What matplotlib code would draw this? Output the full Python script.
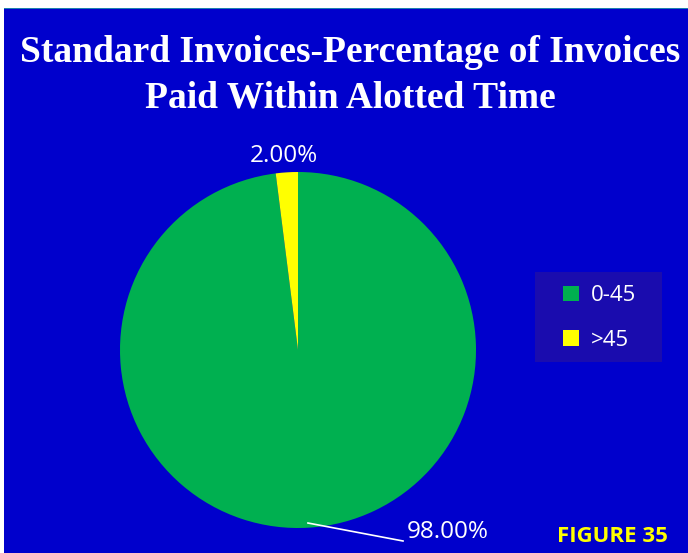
import matplotlib.pyplot as plt
from matplotlib.patches import Rectangle
import numpy as np

categories = ['0-45', '>45']
values = [98.0, 2.0]
labels = ['98.00%', '2.00%']
colors = ['#00B050', '#FFFF00']

W, H = 688, 553
fig = plt.figure(figsize=(W / 100, H / 100), dpi=100, facecolor='white')

def px_rect(x0, y0, x1, y1, color):
    # rectangle given in pixel coords from the top-left corner
    fig.patches.append(Rectangle((x0 / W, 1 - y1 / H), (x1 - x0) / W, (y1 - y0) / H,
                                 transform=fig.transFigure, facecolor=color,
                                 edgecolor='none', zorder=-5))

# blue chart area
px_rect(4, 9, W, H, '#0000CC')
px_rect(4, 7.5, W, 9, '#1F7FB0')
# legend box
px_rect(535, 272, 662, 362, '#1A0CAE')

fig.text(350 / W, 1 - 62 / H, 'Standard Invoices-Percentage of Invoices',
         ha='center', va='baseline', color='white', fontsize=27, fontweight='bold',
         family='Liberation Serif')
fig.text(350 / W, 1 - 108 / H, 'Paid Within Alotted Time',
         ha='center', va='baseline', color='white', fontsize=27, fontweight='bold',
         family='Liberation Serif')

cx, cy, r = 298, 350, 178
ax = fig.add_axes([(cx - r) / W, (H - cy - r) / H, 2 * r / W, 2 * r / H])
ax.set_facecolor('none')
wedges, _ = ax.pie(values, colors=colors, startangle=90, counterclock=False,
                   wedgeprops=dict(linewidth=0))
ax.set_xlim(-1, 1)
ax.set_ylim(-1, 1)
ax.set_aspect('equal')
ax.axis('off')

# data labels
ax.text(-0.079, 1.09, labels[1], ha='center', va='center', color='white', fontsize=17.5,
        family='Open Sans', clip_on=False)
ax.plot([0.056, 0.59], [-0.972, -1.073], color='white', lw=1.2, clip_on=False)
ax.text(0.61, -1.022, labels[0], ha='left', va='center', color='white', fontsize=17.5,
        family='Open Sans', clip_on=False)

leg = fig.legend(wedges, categories, loc='center', bbox_to_anchor=(600 / W, 1 - 318 / H),
                 frameon=False, prop={'family': 'Open Sans', 'size': 16},
                 handlelength=0.7, handleheight=0.7, handletextpad=0.55,
                 labelspacing=1.05, borderpad=0, borderaxespad=0)
for t in leg.get_texts():
    t.set_color('white')

fig.text(668 / W, 1 - 536 / H, 'FIGURE 35', ha='right', va='center', color='#FFFF00',
         fontsize=16, fontweight='bold', family='Open Sans')

fig.savefig('out.png', dpi=100, facecolor='white')
